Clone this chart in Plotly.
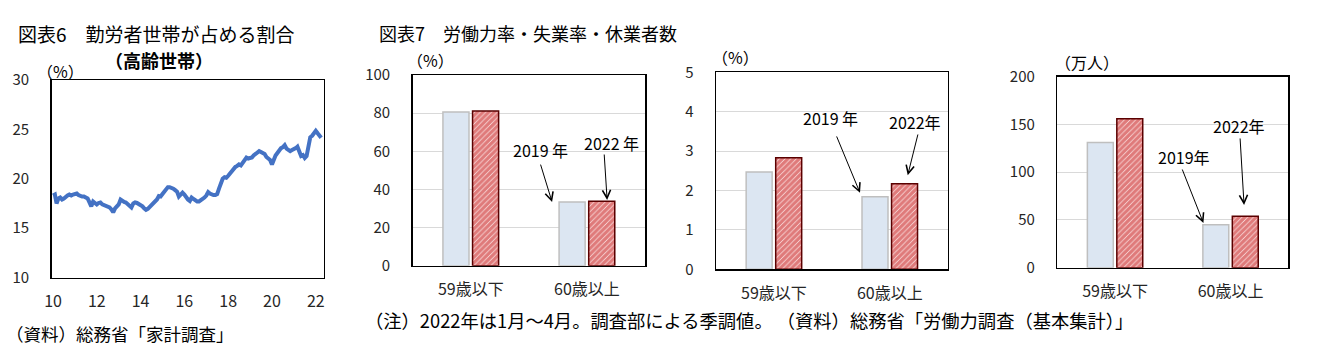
import plotly.graph_objects as go
import pandas as pd

# ---------------- data ----------------
# 図表6: share of worker households among elderly households (monthly, 2010-01 .. 2022-04)
share_start = "2010-01-01"
share = [
    18.3, 18.4, 17.5, 18.0, 18.1, 17.9, 18.0, 18.2, 18.3, 18.4, 18.3, 18.4,
    18.5, 18.5, 18.35, 18.25, 18.2, 18.2, 18.15, 18.0, 17.6, 17.2, 17.7, 17.5,
    17.4, 17.55, 17.6, 17.4, 17.35, 17.3, 17.2, 17.1, 16.9, 16.6, 17.0, 17.2,
    17.4, 17.9, 17.75, 17.65, 17.6, 17.4, 17.25, 17.1, 17.5, 17.6, 17.55, 17.45,
    17.35, 17.2, 17.0, 16.85, 16.95, 17.15, 17.35, 17.5, 17.65, 17.9, 18.25, 18.2,
    18.45, 18.7, 19.0, 19.15, 19.15, 19.1, 19.0, 18.85, 18.7, 18.2, 18.5, 18.6,
    18.4, 18.05, 17.9, 17.75, 18.1, 17.95, 17.8, 17.7, 17.7, 17.8, 17.9, 18.1,
    18.3, 18.65, 18.5, 18.4, 18.35, 18.35, 18.45, 19.0, 19.6, 20.0, 20.15, 20.1,
    20.3, 20.55, 20.85, 21.05, 21.2, 21.3, 21.45, 21.35, 21.6, 21.9, 22.15, 22.05,
    22.1, 22.15, 22.35, 22.55, 22.7, 22.8, 22.7, 22.55, 22.5, 22.2, 22.0, 21.9,
    21.45, 21.95, 22.35, 22.6, 22.95, 23.1, 23.2, 23.4, 23.05, 22.9, 22.8, 22.9,
    22.95, 23.1, 23.25, 22.6, 22.3, 22.4, 22.1, 22.3, 23.4, 24.2, 24.35, 24.6,
    24.85, 24.6, 24.3, 24.15,
]
year_tick_dates = ["2010-01-01", "2012-01-01", "2014-01-01", "2016-01-01",
                   "2018-01-01", "2020-01-01", "2022-01-01"]
year_tick_labels = ["10", "12", "14", "16", "18", "20", "22"]

# 図表7
categories = ["59歳以下", "60歳以上"]
series_names = ["2019年", "2022年"]
lfpr_2019 = [80.6, 33.4]      # 労働力率 (%)
lfpr_2022 = [81.1, 33.8]
unemp_2019 = [2.47, 1.84]     # 失業率 (%)
unemp_2022 = [2.83, 2.17]
absent_2019 = [131, 45]       # 休業者数 (万人)
absent_2022 = [156, 54]

# ---------------- layout helpers ----------------
W, H = 1330, 358
JP = "Noto Sans CJK JP"


def px_x(x):
    return x / W


def px_y(y):
    return 1 - y / H


months = pd.date_range(share_start, periods=len(share), freq="MS")

fig = go.Figure()

fig.add_trace(go.Scatter(
    x=months, y=share, mode="lines",
    line=dict(color="#4472C4", width=4),
    xaxis="x", yaxis="y", showlegend=False,
))

bar_light = dict(color="#DCE6F2", line=dict(color="#BFBFBF", width=1.5))
bar_hatch = dict(color="white", line=dict(color="#5A0000", width=1.5),
                 pattern=dict(shape="/", fgcolor="#C00000", bgcolor="#FFF4F4",
                              size=4, solidity=0.85))

for i, (a, b) in enumerate([(lfpr_2019, lfpr_2022),
                            (unemp_2019, unemp_2022),
                            (absent_2019, absent_2022)], start=2):
    fig.add_trace(go.Bar(x=categories, y=a, name=series_names[0], marker=bar_light,
                         xaxis=f"x{i}", yaxis=f"y{i}", showlegend=False,
                         offsetgroup="a"))
    fig.add_trace(go.Bar(x=categories, y=b, name=series_names[1], marker=bar_hatch,
                         xaxis=f"x{i}", yaxis=f"y{i}", showlegend=False,
                         offsetgroup="b"))

tickfont = dict(family=JP, size=15, color="#262626")
frame = dict(showline=True, linecolor="black", linewidth=1.5, mirror=True,
             zeroline=False, automargin=False)

# plot boxes in pixels: (left, right, top, bottom)
boxes = {
    1: (51.7, 323.5, 80, 277.5),
    2: (412.7, 645, 75, 265.7),
    3: (716, 947.7, 72.3, 269.3),
    4: (1057.3, 1288.3, 76.7, 267.7),
}

layout = dict(
    width=W, height=H, autosize=False,
    margin=dict(l=0, r=0, t=0, b=0, pad=0),
    paper_bgcolor="white", plot_bgcolor="white",
    barmode="group", bargap=0.49, bargroupgap=0.12,
    showlegend=False,
)

for i, (l, r, t, b) in boxes.items():
    xa = "xaxis" if i == 1 else f"xaxis{i}"
    ya = "yaxis" if i == 1 else f"yaxis{i}"
    layout[xa] = dict(domain=[px_x(l), px_x(r)], anchor="y" if i == 1 else f"y{i}",
                      showgrid=False, ticks="",
                      tickfont=dict(family=JP, size=16, color="#262626"),
                      ticklabelstandoff=9, **frame)
    layout[ya] = dict(domain=[px_y(b), px_y(t)], anchor="x" if i == 1 else f"x{i}",
                      ticks="", tickfont=tickfont, ticklabelstandoff=18, **frame)

layout["xaxis"].update(type="date", range=["2009-12-10", "2022-05-10"],
                       tickmode="array", tickvals=year_tick_dates,
                       ticktext=year_tick_labels, ticklabelstandoff=9)
layout["yaxis"].update(range=[10, 30], dtick=5, showgrid=False)

grid = dict(showgrid=True, gridcolor="#D9D9D9", gridwidth=1)
layout["xaxis2"].update(range=[-0.5, 1.5])
layout["xaxis3"].update(range=[-0.5, 1.5])
layout["xaxis4"].update(range=[-0.5, 1.5])
layout["yaxis2"].update(range=[0, 100], dtick=20, **grid)
layout["yaxis3"].update(range=[0, 5], dtick=1, **grid)
layout["yaxis4"].update(range=[0, 200], dtick=50, **grid)

fig.update_layout(**layout)


def text(s, x, y, size=16, xanchor="center", bold=False, color="black"):
    if bold:
        s = f"<b>{s}</b>"
    fig.add_annotation(text=s, x=px_x(x), y=px_y(y), xref="paper", yref="paper",
                       xanchor=xanchor, yanchor="middle", showarrow=False,
                       font=dict(family=JP, size=size, color=color))


# titles and notes
text("図表6　勤労者世帯が占める割合", 16, 33, size=19, xanchor="left")
text("（高齢世帯）", 159, 60, size=18, bold=True)
text("（%）", 60, 71, size=16)
text("（資料）総務省「家計調査」", 4, 333, size=17.5, xanchor="left")

text("図表7　労働力率・失業率・休業者数", 377, 33, size=18, xanchor="left")
text("（%）", 431, 60, size=16)
text("（%）", 735, 57, size=16)
text("（万人）", 1087, 62, size=16)
text("（注）2022年は1月～4月。調査部による季調値。 （資料）総務省「労働力調査（基本集計）」",
     363, 320, size=18.3, xanchor="left")


def arrow_note(label, i, tx, ty, x0, y0, x1, y1):
    xr = f"x{i}"
    yr = f"y{i}"
    fig.add_annotation(text=label, x=tx, y=ty, xref=xr, yref=yr, showarrow=False,
                       font=dict(family=JP, size=16, color="black"))
    fig.add_annotation(text="", x=x1, y=y1, ax=x0, ay=y0, xref=xr, yref=yr,
                       axref=xr, ayref=yr, showarrow=True, arrowhead=5,
                       arrowsize=1.6, arrowwidth=1, arrowcolor="black")


arrow_note("2019 年", 2, 0.597, 60.6, 0.597, 53.8, 0.70, 33.4)
arrow_note("2022 年", 2, 1.213, 64.3, 1.148, 59.1, 1.174, 34.5)
arrow_note("2019 年", 3, 0.484, 3.84, 0.536, 3.41, 0.743, 1.94)
arrow_note("2022年", 3, 1.218, 3.74, 1.246, 3.46, 1.155, 2.39)
arrow_note("2019年", 4, 0.593, 115.9, 0.577, 104.4, 0.765, 46.8)
arrow_note("2022年", 4, 1.069, 148.4, 1.082, 136.9, 1.117, 65.7)

fig.write_html("out.html", config={"displayModeBar": False, "staticPlot": True},
               post_script="document.body.style.margin='0';document.body.style.overflow='hidden';")
